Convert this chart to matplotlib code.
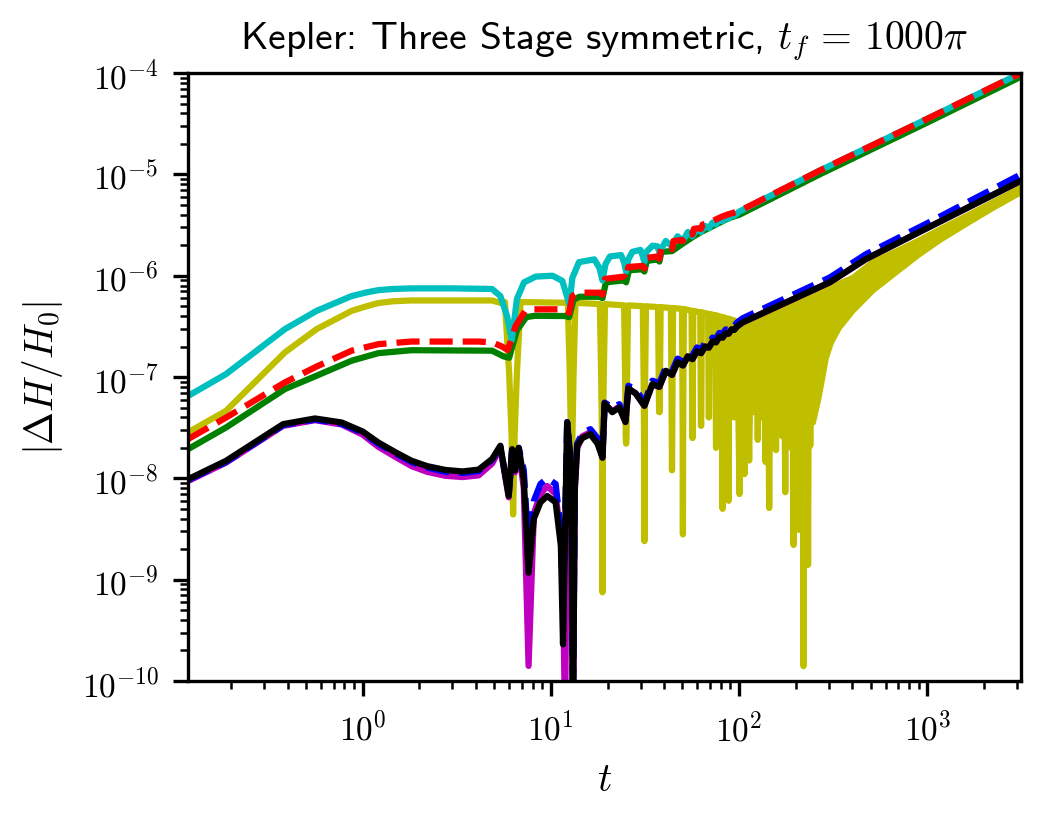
import matplotlib
matplotlib.use('Agg')
import matplotlib.pyplot as plt

plt.rcParams['mathtext.fontset'] = 'cm'
plt.rcParams['font.family'] = 'cmr10'
plt.rcParams['axes.formatter.use_mathtext'] = True
plt.rcParams['font.size'] = 8

# --- cyan (upper group) ---
cyan_t = [0.118, 0.188, 0.386, 0.569, 0.874, 1.05, 1.21, 1.45, 1.82, 3.0, 4.87, 5.39, 5.85, 6.2, 6.6,
          7.2, 8.3, 10.2, 11.5, 12.1, 12.55, 13.0, 14.1, 17.0, 18.1, 18.8, 19.5, 20.6, 23.6, 24.5,
          25.1, 25.8, 27.1, 29.9, 30.8, 31.4, 32.0, 34.7, 36.8, 37.7, 40.8, 44.0, 47.1, 50.3, 53.4,
          56.5, 59.7, 62.8, 66.0, 69.1, 72.3, 75.4, 78.5, 81.7, 84.8, 88.0, 91.1, 94.2, 100.4, 268,
          1000, 3142]
cyan_y = [6.5e-8, 1.07e-7, 2.97e-7, 4.5e-7, 6.3e-7, 6.85e-7, 7.2e-7, 7.4e-7, 7.5e-7, 7.5e-7, 7.4e-7,
          6.3e-7, 4.0e-7, 2.3e-7, 5.9e-7, 8.6e-7, 9.8e-7, 1.0e-6, 8.9e-7, 6.5e-7, 5.2e-7, 9.5e-7,
          1.36e-6, 1.45e-6, 1.2e-6, 9.0e-7, 1.3e-6, 1.55e-6, 1.6e-6, 1.35e-6, 1.1e-6, 1.45e-6,
          1.72e-6, 1.8e-6, 1.55e-6, 1.36e-6, 1.7e-6, 1.98e-6, 1.95e-6, 1.7e-6, 2.2e-6, 1.95e-6,
          2.45e-6, 2.2e-6, 2.7e-6, 2.45e-6, 2.9e-6, 2.7e-6, 3.1e-6, 2.95e-6, 3.35e-6, 3.2e-6, 3.55e-6,
          3.45e-6, 3.75e-6, 3.65e-6, 4.0e-6, 3.9e-6, 4.3e-6, 1.09e-5, 3.54e-5, 1.0e-4]

# --- red dashed / green (upper group, staircase) ---
red_t = [0.118, 0.188, 0.386, 0.569, 0.874, 1.21, 1.82, 4.13, 4.87, 5.5, 5.9, 6.5, 7.3, 8.0, 11.9,
         12.5, 13.0, 14.0, 18.2, 18.8, 19.4, 24.5, 25.1, 25.8, 30.8, 31.4, 32.1, 37.1, 37.7, 38.5,
         43.4, 44.0, 44.8, 49.7, 50.3, 51.1, 56.0, 56.5, 57.5, 62.3, 62.8, 64.0, 69.1, 75.4, 81.7,
         88.0, 100.4, 268, 1000, 3142]
red_y = [2.44e-8, 3.98e-8, 8.85e-8, 1.27e-7, 1.82e-7, 2.11e-7, 2.24e-7, 2.24e-7, 2.2e-7, 2.0e-7,
         1.85e-7, 3.2e-7, 4.5e-7, 4.66e-7, 4.66e-7, 4.3e-7, 6.3e-7, 6.8e-7, 6.8e-7, 6.5e-7, 9.3e-7,
         9.8e-7, 9.2e-7, 1.22e-6, 1.25e-6, 1.18e-6, 1.5e-6, 1.55e-6, 1.47e-6, 1.85e-6, 1.9e-6, 1.82e-6,
         2.2e-6, 2.25e-6, 2.2e-6, 2.55e-6, 2.6e-6, 2.55e-6, 2.9e-6, 2.95e-6, 2.9e-6, 3.2e-6, 3.3e-6,
         3.6e-6, 3.85e-6, 4.05e-6, 4.35e-6, 1.09e-5, 3.54e-5, 1.0e-4]

green_t = [0.118, 0.188, 0.386, 0.569, 0.874, 1.21, 1.82, 4.87, 5.6, 6.0, 6.6, 7.4, 8.2, 11.9, 12.5,
           13.2, 14.2, 18.2, 18.8, 19.6, 24.5, 25.1, 26.0, 30.8, 31.4, 32.3, 37.1, 37.7, 38.7, 44.0,
           50.3, 56.5, 62.8, 75.4, 88.0, 100.4, 268, 1000, 3142]
green_y = [1.94e-8, 3.18e-8, 7.6e-8, 1.03e-7, 1.45e-7, 1.72e-7, 1.84e-7, 1.82e-7, 1.6e-7, 1.55e-7,
           2.9e-7, 3.9e-7, 4.02e-7, 4.0e-7, 3.9e-7, 5.8e-7, 6.2e-7, 6.2e-7, 6.0e-7, 8.6e-7, 9.0e-7,
           8.6e-7, 1.13e-6, 1.16e-6, 1.1e-6, 1.4e-6, 1.45e-6, 1.38e-6, 1.72e-6, 1.75e-6, 2.08e-6,
           2.4e-6, 2.7e-6, 3.2e-6, 3.7e-6, 4.0e-6, 1.0e-5, 3.25e-5, 9.2e-5]

# --- yellow ---
yellow_pre_t = [0.118, 0.188, 0.386, 0.569, 0.874, 1.05, 1.21, 1.45, 1.82, 4.87, 5.39]
yellow_pre_y = [2.84e-8, 4.64e-8, 1.75e-7, 2.97e-7, 4.5e-7, 5.0e-7, 5.37e-7, 5.6e-7, 5.7e-7, 5.7e-7, 5.4e-7]
yellow_dip_t = [6.3, 12.9, 18.8, 25.1, 31.4, 37.7, 44.0, 50.3, 56.5, 62.8, 69.1, 75.4, 81.7, 88.0,
                94.2, 100.5, 106.8, 113.1, 119.4, 125.7, 131.9, 138.2, 144.5, 150.8, 157.1, 163.4,
                169.6, 175.9, 182.2, 188.5, 194.8, 201.1, 207.3, 213.6, 219.9, 226.2, 232.5, 238.8, 245.0]
yellow_dip_y = [4.4e-9, 1.0e-9, 7.5e-10, 2.2e-8, 2.4e-9, 4.5e-8, 1.2e-8, 2.8e-9, 2.5e-8, 3.3e-8,
                4.0e-8, 2.0e-8, 5.0e-9, 6.0e-9, 4.0e-8, 7.0e-9, 1.1e-8, 1.5e-8, 4.5e-8, 2.4e-8, 4.0e-8,
                1.45e-8, 5.1e-9, 3.5e-8, 1.9e-8, 3.0e-8, 2.6e-8, 7.3e-9, 2.2e-8, 2.0e-8, 2.2e-9, 1.5e-8,
                3.1e-9, 1.0e-8, 1.4e-10, 1.2e-8, 1.4e-9, 2.1e-8, 3.6e-8]
yellow_top_y = [5.5e-7, 5.4e-7, 5.25e-7, 5.1e-7, 5.0e-7, 4.9e-7, 4.8e-7, 4.7e-7, 4.5e-7, 4.35e-7,
                4.2e-7, 4.05e-7, 3.9e-7, 3.75e-7, 3.6e-7, 3.4e-7, 3.45e-7, 3.55e-7, 3.7e-7, 3.85e-7,
                4.0e-7, 4.15e-7, 4.3e-7, 4.45e-7, 4.6e-7, 4.75e-7, 4.9e-7, 5.0e-7, 5.15e-7, 5.3e-7,
                5.45e-7, 5.6e-7, 5.75e-7, 5.9e-7, 6.0e-7, 6.15e-7, 6.3e-7, 6.45e-7, 6.6e-7]
yellow_band_t = [245, 252, 262, 275, 287, 305, 337, 400, 512, 700, 900, 1166, 1600, 2200, 3142]
yellow_band_lo = [3.6e-8, 4.5e-8, 6.2e-8, 1.0e-7, 1.56e-7, 2.2e-7, 3.1e-7, 4.6e-7, 7.3e-7, 1.15e-6,
                  1.65e-6, 2.3e-6, 3.3e-6, 4.7e-6, 6.8e-6]
yellow_band_hi = [6.6e-7, 6.7e-7, 6.9e-7, 7.1e-7, 7.4e-7, 7.8e-7, 8.4e-7, 9.6e-7, 1.38e-6, 1.8e-6,
                  2.25e-6, 2.9e-6, 3.9e-6, 5.3e-6, 7.5e-6]

# --- lower group: black, blue dashed, magenta ---
low_t = [0.118, 0.188, 0.378, 0.558, 0.773, 1.0, 1.21, 1.5, 1.82, 2.2, 2.75, 3.4, 4.13, 4.87, 5.39,
         5.97, 6.22, 6.45, 6.75, 7.18, 7.61, 8.12, 8.8, 9.56, 10.6, 11.3, 11.6, 11.9, 12.2, 12.6,
         12.9, 13.1, 13.4, 13.8, 14.7, 16.2, 17.7, 18.8, 19.3, 21.2, 23.1, 24.9, 25.8, 28.2, 31.4,
         34.6, 37.7, 40.8, 44.0, 47.1, 50.3, 53.4, 56.5, 59.7, 62.8, 66.0, 69.1, 72.3, 75.4, 78.5,
         81.7, 84.8, 88.0, 91.1, 94.2, 97.4, 104.4, 303, 472, 1000, 3142]
black_y = [9.8e-9, 1.49e-8, 3.43e-8, 3.9e-8, 3.56e-8, 2.9e-8, 2.26e-8, 1.8e-8, 1.49e-8, 1.32e-8,
           1.21e-8, 1.17e-8, 1.22e-8, 1.55e-8, 2.1e-8, 6.7e-9, 1.94e-8, 1.2e-8, 2.0e-8, 9.7e-9, 1.17e-9,
           4.0e-9, 5.8e-9, 6.7e-9, 5.8e-9, 2.16e-9, 2.3e-10, 3.0e-9, 3.56e-8, 1.8e-8, 3.0e-9, 3.0e-11,
           8.0e-9, 2.1e-8, 2.5e-8, 2.73e-8, 2.2e-8, 1.6e-8, 5.5e-8, 4.5e-8, 5.0e-8, 3.6e-8, 7.7e-8,
           6.9e-8, 5.2e-8, 8.5e-8, 8.0e-8, 1.15e-7, 1.05e-7, 1.4e-7, 1.3e-7, 1.6e-7, 1.5e-7, 1.8e-7,
           1.72e-7, 2.0e-7, 1.95e-7, 2.25e-7, 2.2e-7, 2.5e-7, 2.45e-7, 2.7e-7, 2.68e-7, 2.95e-7,
           2.92e-7, 3.15e-7, 3.46e-7, 8.6e-7, 1.46e-6, 2.96e-6, 8.65e-6]
blue_y = [9.6e-9, 1.45e-8, 3.35e-8, 3.8e-8, 3.45e-8, 2.82e-8, 2.2e-8, 1.75e-8, 1.45e-8, 1.28e-8,
          1.16e-8, 1.13e-8, 1.18e-8, 1.52e-8, 2.05e-8, 7.0e-9, 1.9e-8, 1.3e-8, 2.0e-8, 1.2e-8, 2.0e-9,
          6.0e-9, 8.8e-9, 1.0e-8, 8.8e-9, 3.0e-9, 5.0e-10, 4.0e-9, 3.6e-8, 1.9e-8, 3.5e-9, 5.0e-11,
          9.0e-9, 2.2e-8, 2.8e-8, 3.06e-8, 2.5e-8, 1.7e-8, 5.6e-8, 5.0e-8, 5.4e-8, 3.8e-8, 8.2e-8,
          7.6e-8, 5.6e-8, 9.2e-8, 8.7e-8, 1.25e-7, 1.14e-7, 1.52e-7, 1.41e-7, 1.74e-7, 1.63e-7,
          1.96e-7, 1.87e-7, 2.18e-7, 2.12e-7, 2.45e-7, 2.4e-7, 2.72e-7, 2.67e-7, 2.95e-7, 2.92e-7,
          3.22e-7, 3.19e-7, 3.45e-7, 3.8e-7, 9.6e-7, 1.63e-6, 3.3e-6, 1.0e-5]
magenta_y = [9.4e-9, 1.43e-8, 3.3e-8, 3.75e-8, 3.4e-8, 2.7e-8, 2.05e-8, 1.62e-8, 1.32e-8, 1.16e-8,
             1.06e-8, 1.03e-8, 1.07e-8, 1.4e-8, 2.0e-8, 6.5e-9, 1.85e-8, 1.15e-8, 1.9e-8, 8.0e-9,
             1.41e-10, 4.5e-9, 7.0e-9, 8.4e-9, 7.0e-9, 2.5e-9, 1.0e-9, 3.0e-11, 3.3e-8, 1.7e-8, 2.8e-9,
             3.0e-11, 7.5e-9, 2.0e-8, 2.6e-8, 2.85e-8, 2.3e-8, 1.6e-8, 5.4e-8, 4.6e-8, 5.1e-8, 3.6e-8,
             7.7e-8, 6.9e-8, 5.2e-8, 8.5e-8, 8.0e-8, 1.15e-7, 1.05e-7, 1.4e-7, 1.3e-7, 1.6e-7, 1.5e-7,
             1.8e-7, 1.72e-7, 2.0e-7, 1.95e-7, 2.25e-7, 2.2e-7, 2.5e-7, 2.45e-7, 2.7e-7, 2.68e-7,
             2.95e-7, 2.92e-7, 3.15e-7, 3.46e-7, 8.6e-7, 1.46e-6, 2.96e-6, 8.65e-6]


def narrow_dip(tc, bottom, top):
    # sharp dip: nearly vertical legs a fixed time width either side of tc
    ts, ys = [], []
    for dt, frac in [(-0.6, 1.0), (-0.3, 0.2), (-0.12, 0.05), (0.0, 0.0),
                     (0.12, 0.05), (0.3, 0.2), (0.6, 1.0)]:
        ts.append(tc + dt)
        ys.append(bottom if dt == 0 else max(bottom, top * frac))
    return ts, ys


def wide_dip(tc, bottom, top, w):
    return [tc * (1 - w), tc, tc * (1 + w)], [top, bottom, top]


yel_t = list(yellow_pre_t)
yel_y = list(yellow_pre_y)
for k, (tc, b, tp) in enumerate(zip(yellow_dip_t, yellow_dip_y, yellow_top_y), start=1):
    if k < 16:
        ts, ys = narrow_dip(tc, b, tp)
    else:
        ts, ys = wide_dip(tc, b, tp, 0.9 / (2 * k + 1))
    yel_t += ts
    yel_y += ys

fig = plt.figure(figsize=(3.493, 2.713), dpi=300)
ax = fig.add_axes([0.1794, 0.1622, 0.7948, 0.7469])

lw = 1.5
ax.plot(yel_t, yel_y, color='y', lw=lw)
ax.fill_between(yellow_band_t, yellow_band_lo, yellow_band_hi, color='y', lw=lw)
ax.plot(green_t, green_y, color='g', lw=lw)
ax.plot(cyan_t, cyan_y, color='c', lw=lw)
ax.plot(red_t, red_y, 'r--', lw=lw)
ax.plot(low_t, magenta_y, color='m', lw=lw)
ax.plot(low_t, blue_y, 'b--', lw=lw)
ax.plot(low_t, black_y, color='k', lw=lw)

ax.set_xscale('log')
ax.set_yscale('log')
ax.set_xlim(0.118, 1000 * 3.14159)
ax.set_ylim(1e-10, 1e-4)
ax.set_xlabel(r'$t$', fontsize=9.5)
ax.set_ylabel(r'$|\Delta H/H_0|$', fontsize=9.5)
ax.set_title(r'Kepler: Three Stage symmetric, $t_f\,=\,1000\pi$', fontsize=9.5, fontfamily='cmss10')

fig.savefig('out.png', dpi=300)
